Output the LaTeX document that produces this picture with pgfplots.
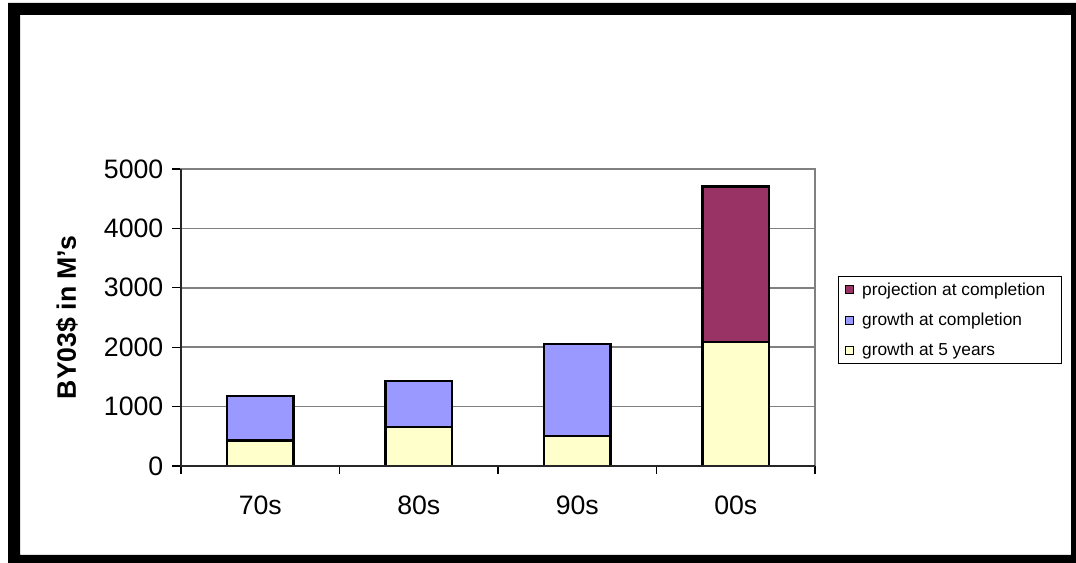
\documentclass[border=0pt]{standalone}
\usepackage{pgfplots}
\pgfplotsset{compat=1.18}
\usepackage{fontspec}
\setmainfont{Liberation Sans}
\definecolor{fiveyr}{HTML}{FFFFCC}
\definecolor{compl}{HTML}{9999FF}
\definecolor{proj}{HTML}{993366}
\definecolor{gridgray}{HTML}{808080}

\begin{document}
\begin{tikzpicture}[x=1pt,y=1pt]
\useasboundingbox (0,0) rectangle (807,422.25);
\fill[white] (0,0) rectangle (807,422.25);
% outer black frame
\fill[black,even odd rule] (6,0) rectangle (807,420) (15,6) rectangle (803.25,411);
\begin{axis}[
  name=ax,
  at={(135.75pt,72.75pt)}, anchor=south west,
  scale only axis, width=475.5pt, height=222.75pt,
  ybar stacked, bar width=0.42,
  xmin=-0.5, xmax=3.5, ymin=0, ymax=5000,
  xtick={0,1,2,3}, xticklabels={70s,80s,90s,00s},
  xtick style={draw=none},
  extra x ticks={-0.5,0.5,1.5,2.5,3.5},
  extra x tick labels={},
  extra x tick style={xtick style={draw=black, line width=0.9pt}, major tick length=6pt, tick align=outside},
  ytick={0,1000,2000,3000,4000,5000},
  ytick pos=left, xtick pos=bottom,
  ytick style={draw=black, line width=0.9pt},
  major tick length=6.75pt, tick align=outside,
  ymajorgrids, grid style={gridgray, line width=1.1pt},
  axis line style={gridgray, line width=1.1pt},
  /pgf/number format/assume math mode=true,
  /pgf/number format/set thousands separator={},
  tick label style={font=\fontsize{20}{24}\selectfont},
  yticklabel style={anchor=east, xshift=-3pt},
  xticklabel style={anchor=north, yshift=-12.5pt},
  ylabel={BY03\$ in M's},
  ylabel style={font=\fontsize{20}{24}\selectfont\bfseries, at={(rel axis cs:0,0.5)}, anchor=center, yshift=85.5pt},
  legend style={at={(rel axis cs:1,0.5)}, xshift=17.25pt, anchor=west, yshift=-2pt,
    draw=black, line width=0.8pt, font=\fontsize{13}{15}\selectfont,
    row sep=7.8pt, inner xsep=4.5pt, inner ysep=2.5pt,
    legend cell align=left},
  legend image code/.code={\draw[#1, line width=0.9pt] (1pt,-3pt) rectangle (7pt,3pt);
    \path (11pt,0pt);},
  reverse legend,
]
\addplot[fill=fiveyr, draw=black, line width=1.6pt] coordinates {(0,430) (1,660) (2,510) (3,2085)};
\addlegendentry{growth at 5 years}
\addplot[fill=compl, draw=black, line width=1.6pt] coordinates {(0,750) (1,775) (2,1550) (3,0)};
\addlegendentry{growth at completion}
\addplot[fill=proj, draw=black, line width=1.6pt] coordinates {(0,0) (1,0) (2,0) (3,2620)};
\addlegendentry{projection at completion\hspace*{6pt}}
\end{axis}
\draw[black!85, line width=1.3pt] (ax.north west) -- (ax.south west) -- (ax.south east);
\end{tikzpicture}
\end{document}
